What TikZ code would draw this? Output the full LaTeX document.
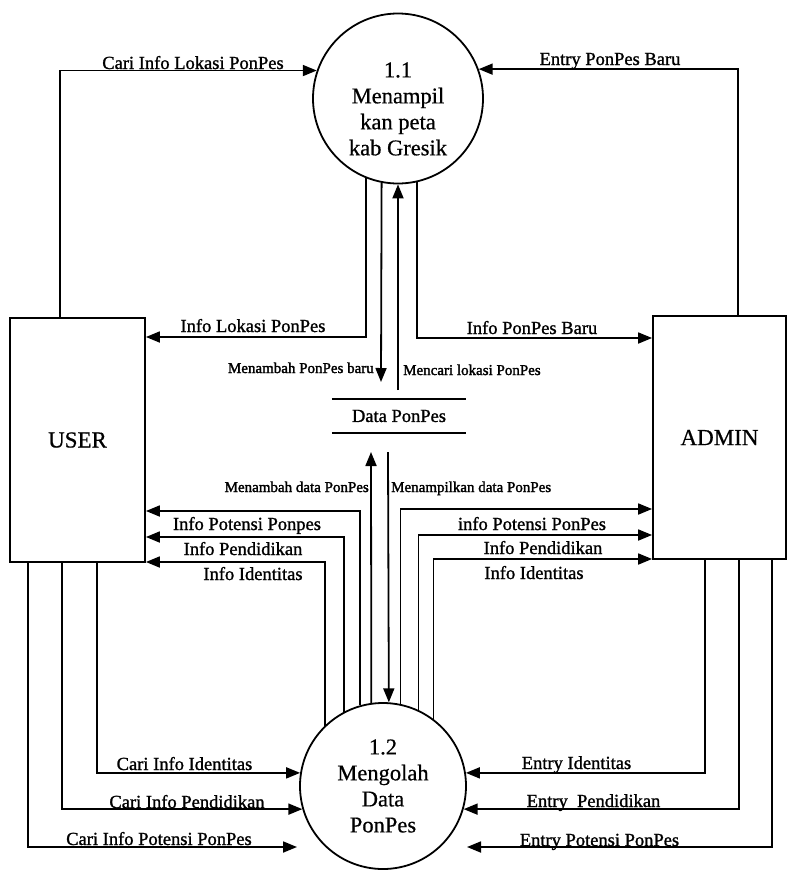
\documentclass[tikz,border=0pt]{standalone}
\usepackage{fontspec}
\setmainfont{Liberation Serif}
\newfontfamily\lblfont{Liberation Serif}[FakeBold=1.2]
\newfontfamily\smlfont{Liberation Serif}[FakeBold=1.8]
\newfontfamily\txtfont{Liberation Serif}[FakeBold=0.6]
\usetikzlibrary{arrows.meta}
\begin{document}
\begin{tikzpicture}[x=1pt,y=-1pt,
  every node/.style={inner sep=0pt},
  ln/.style={line width=1.8pt},
  arr/.style={ln,-{Triangle[length=14pt,width=11pt]}},
  ent/.style={draw,line width=1.8pt,font=\txtfont\fontsize{23}{26}\selectfont},
  proc/.style={draw,circle,line width=1.8pt},
  ptxt/.style={align=center,font=\txtfont\fontsize{22.5}{26}\selectfont},
  lbl/.style={font=\lblfont\fontsize{18.5}{20}\selectfont,anchor=base},
  sml/.style={font=\smlfont\fontsize{15}{17}\selectfont},
]
\useasboundingbox (0,0) rectangle (788,876);

% entities
\node[ent,minimum width=135pt,minimum height=244pt] (user) at (77.5,440) {USER};
\node[ent,minimum width=133pt,minimum height=243pt] (admin) at (719.5,437.5) {ADMIN};

% processes
\node[proc,minimum size=170pt] (c1) at (398,98.5) {};
\node[ptxt] (t1) at (398,109) {1.1\\Menampil\\kan peta\\kab Gresik};
\node[proc,ptxt,minimum size=166pt] (c2) at (383,786) {1.2\\Mengolah\\Data\\PonPes};

% data store
\node[minimum width=134pt,minimum height=34pt,font=\lblfont\fontsize{18.5}{20}\selectfont] (ds) at (399,416) {Data PonPes};
\draw[ln] (ds.north west) -- (ds.north east) (ds.south west) -- (ds.south east);

% free ends
\coordinate (a1) at (381,382);
\coordinate (a2) at (398,390);
\coordinate (b1) at (371,452);
\coordinate (b2) at (388,452);
\coordinate (p1) at (297,847);
\coordinate (p2) at (467,847);

% upper flows
\draw[arr] (60,0 |- user.north) |- (c1.161.8);
\draw[arr] (738,0 |- admin.north) |- (c1.20.3);
\draw[arr] (c1.-112.8) |- (user.east |- 0,337);
\draw[arr] (c1.-101.5) -- (a1);
\draw[arr] (a2) -- (c1.south);
\draw[arr] (c1.-77.1) |- (admin.west |- 0,338);

% middle flows
\draw[arr] (c2.98.3) -- (b1);
\draw[arr] (b2) -- (c2.86.5);
\draw[arr] (c2.106.1) |- (user.east |- 0,511);
\draw[arr] (c2.118.8) |- (user.east |- 0,537);
\draw[arr] (c2.134.3) |- (user.east |- 0,562);
\draw[arr] (c2.78.9) |- (admin.west |- 0,509);
\draw[arr] (c2.65.8) |- (admin.west |- 0,535);
\draw[arr] (c2.53) |- (admin.west |- 0,559);

% lower flows
\draw[arr] (97,0 |- user.south) |- (c2.171);
\draw[arr] (62,0 |- user.south) |- (c2.196.8);
\draw[arr] (28,0 |- user.south) |- (p1);
\draw[arr] (705,0 |- admin.south) |- (c2.9);
\draw[arr] (739,0 |- admin.south) |- (c2.-16.8);
\draw[arr] (772,0 |- admin.south) |- (p2);

% labels
\node[lbl] (l1) at (193,69) {Cari Info Lokasi PonPes};
\node[lbl] (l2) at (610,65) {Entry PonPes Baru};
\node[lbl] (l3) at (253,332) {Info Lokasi PonPes};
\node[lbl] (l4) at (532,334) {Info PonPes Baru};
\node[sml,anchor=base east] (l5) at (374,373) {Menambah PonPes baru};
\node[sml,anchor=base west] (l6) at (403,375) {Mencari lokasi PonPes};
\node[sml,anchor=base east] (l7) at (369,492) {Menambah data PonPes};
\node[sml,anchor=base west] (l8) at (391,492) {Menampilkan data PonPes};
\node[lbl] (l9) at (247,530) {Info Potensi Ponpes};
\node[lbl] (l10) at (243,555) {Info Pendidikan};
\node[lbl] (l11) at (253,580) {Info Identitas};
\node[lbl] (l12) at (532,530) {info Potensi PonPes};
\node[lbl] (l13) at (543,554) {Info Pendidikan};
\node[lbl] (l14) at (534,579) {Info Identitas};
\node[lbl] (l15) at (184.5,770) {Cari Info Identitas};
\node[lbl] (l16) at (187,808) {Cari Info Pendidikan};
\node[lbl] (l17) at (159,845) {Cari Info Potensi PonPes};
\node[lbl] (l18) at (576.5,769) {Entry Identitas};
\node[lbl] (l19) at (593.5,807) {Entry\ \ Pendidikan};
\node[lbl] (l20) at (599.5,846) {Entry Potensi PonPes};
\end{tikzpicture}
\end{document}
